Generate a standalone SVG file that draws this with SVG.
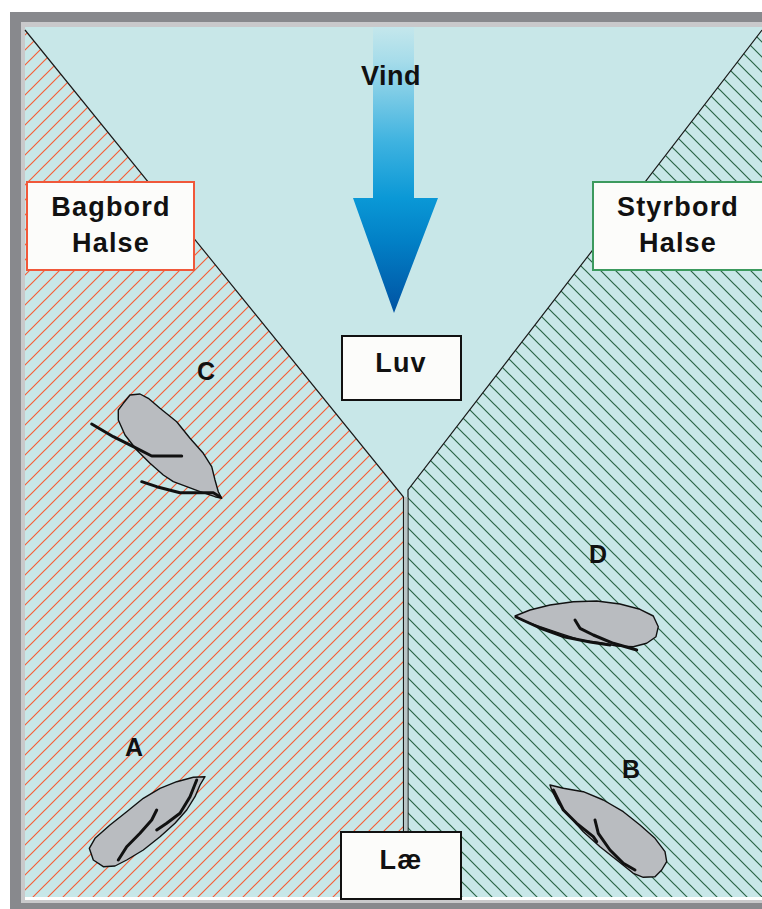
<svg xmlns="http://www.w3.org/2000/svg" width="762" height="909" viewBox="0 0 762 909">
  <style>
    .lbl { font-family: "Liberation Sans", Arial, sans-serif; font-weight: bold; font-size: 27px; letter-spacing: 1.2px; fill: #111; text-anchor: middle; }
    .mark { font-family: "Liberation Sans", Arial, sans-serif; font-weight: bold; font-size: 25px; fill: #111; text-anchor: middle; }
    .box { fill: #fcfcfa; stroke-width: 2; }
    .hull { fill: #b9bcc0; stroke: #111; stroke-width: 1.4; stroke-linejoin: round; }
    .sail { fill: none; stroke: #111; stroke-width: 3; stroke-linecap: round; stroke-linejoin: round; }
    .edge { fill: none; stroke: #1a1a1a; stroke-width: 1.2; }
  </style>
  <defs>
    <pattern id="hatchPort" patternUnits="userSpaceOnUse" width="15" height="15">
      <path d="M-1,1 L1,-1 M0,15 L15,0 M14,16 L16,14" stroke="#f4603a" stroke-width="1.2"/>
    </pattern>
    <pattern id="hatchStar" patternUnits="userSpaceOnUse" width="15" height="15">
      <path d="M-1,14 L1,16 M0,0 L15,15 M14,-1 L16,1" stroke="#2a6446" stroke-width="1.2"/>
    </pattern>
    <linearGradient id="windFill" gradientUnits="userSpaceOnUse" x1="0" y1="27" x2="0" y2="313">
      <stop offset="0" stop-color="#c4e7ec"/>
      <stop offset="0.12" stop-color="#a6dcea"/>
      <stop offset="0.4" stop-color="#3fb3e0"/>
      <stop offset="0.6" stop-color="#0a98d6"/>
      <stop offset="0.75" stop-color="#0280c6"/>
      <stop offset="1" stop-color="#0052a2"/>
    </linearGradient>
  </defs>

  <!-- frame -->
  <rect x="0" y="0" width="762" height="909" fill="#ffffff"/>
  <rect x="10" y="12" width="752" height="897" fill="#88898d"/>
  <rect x="21" y="22" width="741" height="881" fill="#c9c9cb"/>
  <rect x="25" y="27" width="737" height="873" fill="#ffffff"/>
  <rect x="25" y="27" width="737" height="870" fill="#c8e7e8"/>

  <!-- tack zones -->
  <polygon points="25,30 403,497 403,897 25,897" fill="url(#hatchPort)"/>
  <polygon points="762,30 408,490 408,897 762,897" fill="url(#hatchStar)"/>

  <g id="connectors">
    <polyline class="edge" points="25,30 403.5,497 403.5,897"/>
    <polyline class="edge" points="762,30 408,490 408,897"/>
    <rect x="404.2" y="497" width="3.2" height="400" fill="#b8c4c4"/>
  </g>

  <g id="wind">
    <path d="M373,27 H414 V198 H438 L394,313 L353,198 H373 Z" fill="url(#windFill)"/>
    <text class="lbl" x="391" y="85" style="letter-spacing:0.5px">Vind</text>
  </g>

  <g id="port-tack">
    <rect class="box" x="27" y="182" width="167" height="88" stroke="#f0583a"/>
    <text class="lbl" x="111" y="216">Bagbord</text>
    <text class="lbl" x="111" y="252">Halse</text>
  </g>

  <g id="starboard-tack">
    <rect class="box" x="593" y="182" width="172" height="88" stroke="#3c9a5e"/>
    <text class="lbl" x="678" y="216">Styrbord</text>
    <text class="lbl" x="678" y="252">Halse</text>
  </g>

  <g id="windward">
    <rect class="box" x="342" y="336" width="119" height="64" stroke="#111"/>
    <text class="lbl" x="401" y="372">Luv</text>
  </g>

  <g id="leeward">
    <rect class="box" x="341" y="832" width="120" height="67" stroke="#111"/>
    <text class="lbl" x="401" y="869">Læ</text>
  </g>

  <g id="boat-c">
    <polygon class="hull" points="130,395 140,394 148.3,398.3 160,408.3 176.7,421.7 190,438.3 203.3,453.3 211.7,466.7 215,480 218.3,491.7 221.7,498.3 215,496.7 200,491.7 186.7,486.7 173.3,481.7 163.3,475 150,463.3 136.7,450 125,435 118.3,420 118.3,410 123.3,403.3"/>
    <polyline class="sail" points="91.7,424 113.3,436.7 133.3,446.7 151.7,456 181.7,456"/>
    <polyline class="sail" points="141.7,481.7 156.7,486.7 180,492.7 213.3,492.7 220,496.7"/>
    <text class="mark" x="206" y="380">C</text>
  </g>

  <g id="boat-d">
    <polygon class="hull" points="515,616 530,610 550,605 573.3,601.7 596.7,601 620,604 640,609.3 653.3,616 658.3,626.7 656,636.7 646.7,643.3 633.3,646.7 616.7,646 600,642.7 580,640 560,633.3 540,626.7 523.3,620.7"/>
    <polyline class="sail" points="516,617 540,628 565,637 590,642 610,645"/>
    <polyline class="sail" points="575,620 580,628.3 593.3,635 613.3,643.3 636.7,650"/>
    <text class="mark" x="598" y="563">D</text>
  </g>

  <g id="boat-a">
    <polygon class="hull" points="205,776.7 193.3,777.3 176.7,781.7 160,788.3 143.3,798.3 126.7,811.7 110,825 95,838.3 89.3,848.3 93.3,860 103.3,866.7 115,866 126.7,860 143.3,850 160,836.7 175,823.3 186.7,810 195,796.7 200,785"/>
    <polyline class="sail" points="156.7,810 151.7,820 140,833.3 126.7,846.7 118.3,860"/>
    <polyline class="sail" points="196.7,780 190,796.7 180,813.3 166.7,823.3 156.7,830"/>
    <text class="mark" x="134" y="756">A</text>
  </g>

  <g id="boat-b">
    <polygon class="hull" points="550,785 563.3,788.3 583.3,791.7 603.3,800 623.3,811.7 640,825 655,838.3 665,851.7 666.7,861.7 661.7,870 655,876.7 643.3,877.3 633.3,873.3 616.7,860 600,846.7 583.3,831.7 570,816.7 558.3,803.3 551.7,790"/>
    <polyline class="sail" points="595,820 598.3,833.3 610,850 623.3,863.3 635,870"/>
    <polyline class="sail" points="553.3,790 563.3,810 576.7,823.3 593.3,836.7 596.7,841.7"/>
    <text class="mark" x="631" y="778">B</text>
  </g>
</svg>
